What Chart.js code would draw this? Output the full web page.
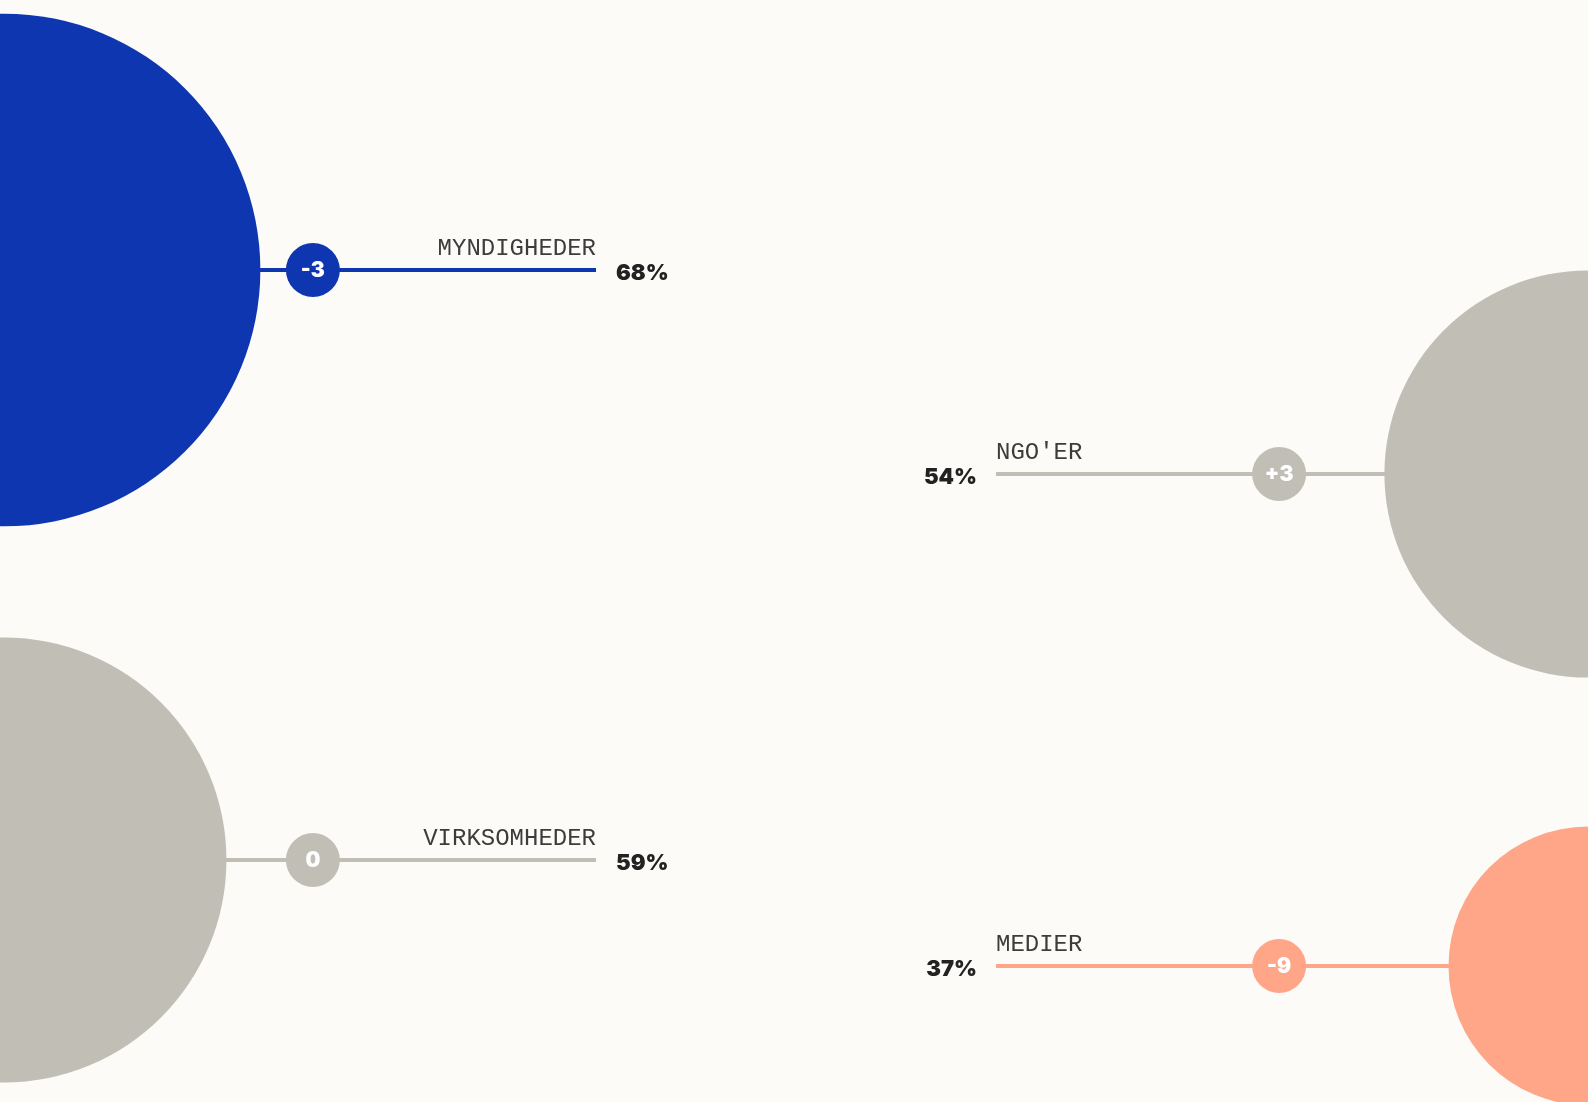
<!DOCTYPE html>
<html lang="da">
<head>
<meta charset="utf-8">
<title>Tillid</title>
<script src="https://cdn.jsdelivr.net/npm/chart.js@4/dist/chart.umd.min.js"></script>
<style>
    html, body { margin: 0; padding: 0; background: #fcfbf8; overflow: hidden; }
    #wrap { width: 1588px; height: 1102px; position: relative; }
</style>
</head>
<body>
<div id="wrap"><canvas id="chart"></canvas></div>
<script>
// data
const categories = ["MYNDIGHEDER", "NGO'ER", "VIRKSOMHEDER", "MEDIER"];
const shares = [68, 54, 59, 37];
const changes = [-3, 3, 0, -9];

// layout (side of page and vertical slot for each category)
const sides = [-1, 1, -1, 1];
const rowY = [270, 474, 860, 966];
const colours = ["#0e36b0", "#c1beb6", "#c1beb6", "#ffa688"];

const pxPerPoint = 3.77;   // big circle radius per percentage point
const lineEnd = 0.2525;    // where the connector stops, from the centre
const badgeX = 0.61;

const fmtChange = v => v > 0 ? "+" + v : String(v);

const labelPlugin = {
    id: "labels",
    afterDatasetsDraw(chart) {
        const { ctx, scales: { x, y } } = chart;
        ctx.save();
        categories.forEach((cat, i) => {
            const py = y.getPixelForValue(rowY[i]);
            const endPx = x.getPixelForValue(sides[i] * lineEnd);
            const badgePx = x.getPixelForValue(sides[i] * badgeX);
            const left = sides[i] < 0;

            // change inside badge
            ctx.fillStyle = "#ffffff";
            ctx.font = "900 21px Inter, 'Liberation Sans', sans-serif";
            ctx.textAlign = "center";
            ctx.textBaseline = "middle";
            ctx.fillText(fmtChange(changes[i]), badgePx, py + 1);

            // category name
            ctx.fillStyle = "#3c3c3c";
            ctx.font = "24px 'Liberation Mono', monospace";
            ctx.textBaseline = "alphabetic";
            ctx.textAlign = left ? "right" : "left";
            ctx.fillText(cat, endPx, py - 15);

            // share
            ctx.fillStyle = "#222222";
            ctx.font = "900 22px Inter, 'Liberation Sans', sans-serif";
            ctx.textBaseline = "middle";
            ctx.textAlign = left ? "left" : "right";
            ctx.fillText(shares[i] + "%", left ? endPx + 20 : endPx - 19, py + 3);
        });
        ctx.restore();
    }
};

const lineSets = categories.map((cat, i) => ({
    type: "line",
    label: cat,
    data: [{ x: sides[i], y: rowY[i] }, { x: sides[i] * lineEnd, y: rowY[i] }],
    borderColor: colours[i],
    borderWidth: 4,
    pointRadius: 0,
    clip: false,
    order: 3
}));

const chart = new Chart(document.getElementById("chart"), {
    type: "bubble",
    data: {
        datasets: [
            ...lineSets,
            {
                label: "andel",
                data: categories.map((c, i) => ({ x: sides[i], y: rowY[i], r: shares[i] * pxPerPoint })),
                backgroundColor: colours,
                borderWidth: 0,
                hoverRadius: 0,
                clip: false,
                order: 2
            },
            {
                label: "ændring",
                data: categories.map((c, i) => ({ x: sides[i] * badgeX, y: rowY[i] })),
                radius: 27,
                backgroundColor: colours,
                borderWidth: 0,
                hoverRadius: 0,
                clip: false,
                order: 1
            }
        ]
    },
    options: {
        responsive: true,
        maintainAspectRatio: false,
        animation: false,
        events: [],
        layout: { autoPadding: false, padding: { left: 4, right: 0, top: 0, bottom: 0 } },
        plugins: { legend: { display: false }, tooltip: { enabled: false } },
        scales: {
            x: { type: "linear", min: -1, max: 1, display: false },
            y: { type: "linear", min: 0, max: 1102, reverse: true, display: false }
        }
    },
    plugins: [labelPlugin]
});
</script>
</body>
</html>
